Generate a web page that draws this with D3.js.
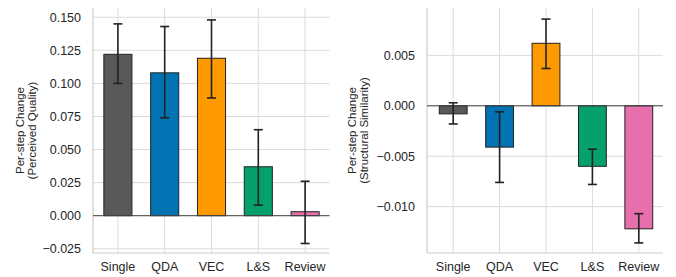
<!DOCTYPE html>
<html>
<head>
<meta charset="UTF-8">
<title>Per-step change</title>
<style>
    body { margin: 0; padding: 0; background: #fff; }
    svg { display: block; font-family: "Liberation Sans", Arial, sans-serif; }
</style>
</head>
<body>
<svg width="676" height="277"></svg>
<script src="https://cdn.jsdelivr.net/npm/d3@7"></script>
<script>
var categories = ["Single", "QDA", "VEC", "L&S", "Review"];
var colors = ["#595959", "#0173b2", "#fe9900", "#06a06f", "#e66fac"];

// perceived quality
var qualityMean = [0.122, 0.108, 0.119, 0.037, 0.003];
var qualityLo = [0.100, 0.074, 0.089, 0.008, -0.021];
var qualityHi = [0.145, 0.143, 0.148, 0.065, 0.026];
var qualityTicks = [-0.025, 0, 0.025, 0.05, 0.075, 0.1, 0.125, 0.15];

// structural similarity
var simMean = [-0.0008, -0.0041, 0.0062, -0.0060, -0.0122];
var simLo = [-0.0018, -0.0076, 0.0037, -0.0078, -0.0136];
var simHi = [0.0003, -0.0006, 0.0086, -0.0043, -0.0107];
var simTicks = [-0.01, -0.005, 0, 0.005];

var svg = d3.select("svg");

function panel(opt) {
    var g = svg.append("g");
    var x = d3.scaleBand()
        .domain(categories)
        .range([opt.left, opt.right])
        .paddingInner(0.4)
        .paddingOuter(0.2);
    var y = d3.scaleLinear()
        .domain(opt.domain)
        .range([opt.bottom, opt.top]);

    // grid
    g.append("g").selectAll("line")
        .data(opt.ticks)
        .enter().append("line")
        .attr("x1", opt.axisLeft).attr("x2", opt.right + 1)
        .attr("y1", function (d) { return y(d); })
        .attr("y2", function (d) { return y(d); })
        .attr("stroke", "#dcdcdc").attr("stroke-width", 1);
    g.append("g").selectAll("line")
        .data(categories)
        .enter().append("line")
        .attr("x1", function (d) { return x(d) + x.bandwidth() / 2; })
        .attr("x2", function (d) { return x(d) + x.bandwidth() / 2; })
        .attr("y1", opt.top).attr("y2", opt.bottom)
        .attr("stroke", "#dcdcdc").attr("stroke-width", 1);

    // spines (left + bottom only)
    g.append("line")
        .attr("x1", opt.axisLeft).attr("x2", opt.axisLeft)
        .attr("y1", opt.top).attr("y2", opt.bottom)
        .attr("stroke", "#cccccc").attr("stroke-width", 1.2);
    g.append("line")
        .attr("x1", opt.axisLeft).attr("x2", opt.right + 1)
        .attr("y1", opt.bottom).attr("y2", opt.bottom)
        .attr("stroke", "#cccccc").attr("stroke-width", 1.2);

    // bars
    g.append("g").selectAll("rect")
        .data(opt.mean)
        .enter().append("rect")
        .attr("x", function (d, i) { return x(categories[i]); })
        .attr("width", x.bandwidth())
        .attr("y", function (d) { return Math.min(y(d), y(0)); })
        .attr("height", function (d) { return Math.abs(y(d) - y(0)); })
        .attr("fill", function (d, i) { return colors[i]; })
        .attr("stroke", "#222").attr("stroke-width", 1);

    // zero line
    g.append("line")
        .attr("x1", opt.axisLeft).attr("x2", opt.right + 1)
        .attr("y1", y(0)).attr("y2", y(0))
        .attr("stroke", "#444").attr("stroke-width", 1);

    // error bars
    var eb = g.append("g").selectAll("g")
        .data(categories)
        .enter().append("g")
        .attr("stroke", "#222").attr("stroke-width", 1.6);
    eb.append("line")
        .attr("x1", function (d) { return x(d) + x.bandwidth() / 2; })
        .attr("x2", function (d) { return x(d) + x.bandwidth() / 2; })
        .attr("y1", function (d, i) { return y(opt.lo[i]); })
        .attr("y2", function (d, i) { return y(opt.hi[i]); });
    eb.append("line")
        .attr("x1", function (d) { return x(d) + x.bandwidth() / 2 - 4.5; })
        .attr("x2", function (d) { return x(d) + x.bandwidth() / 2 + 4.5; })
        .attr("y1", function (d, i) { return y(opt.lo[i]); })
        .attr("y2", function (d, i) { return y(opt.lo[i]); });
    eb.append("line")
        .attr("x1", function (d) { return x(d) + x.bandwidth() / 2 - 4.5; })
        .attr("x2", function (d) { return x(d) + x.bandwidth() / 2 + 4.5; })
        .attr("y1", function (d, i) { return y(opt.hi[i]); })
        .attr("y2", function (d, i) { return y(opt.hi[i]); });

    // y axis
    var ya = g.append("g")
        .attr("transform", "translate(" + opt.axisLeft + ",0)")
        .call(d3.axisLeft(y).tickValues(opt.ticks).tickFormat(d3.format(".3f")).tickSize(0).tickPadding(12));
    ya.select(".domain").remove();
    ya.selectAll("text").attr("font-size", "12.5px").attr("fill", "#262626")
        .attr("font-family", "Liberation Sans, Arial, sans-serif");

    // x axis
    var xa = g.append("g")
        .attr("transform", "translate(0," + opt.bottom + ")")
        .call(d3.axisBottom(x).tickSize(0).tickPadding(9));
    xa.select(".domain").remove();
    xa.selectAll("text").attr("font-size", "12.5px").attr("fill", "#262626")
        .attr("font-family", "Liberation Sans, Arial, sans-serif");

    // y label
    var cy = (opt.top + opt.bottom) / 2;
    var lab = g.append("text")
        .attr("transform", "translate(" + opt.labelX + "," + cy + ") rotate(-90)")
        .attr("text-anchor", "middle")
        .attr("font-size", "11.5px")
        .attr("fill", "#262626");
    lab.append("tspan").attr("x", 0).attr("y", 0).text("Per-step Change");
    lab.append("tspan").attr("x", 0).attr("y", 11.5).text(opt.label);
}

panel({
    left: 94.5, right: 328.5, axisLeft: 93, top: 8, bottom: 253,
    domain: [-0.0282, 0.157],
    ticks: qualityTicks, mean: qualityMean, lo: qualityLo, hi: qualityHi,
    label: "(Perceived Quality)", labelX: 24
});

panel({
    left: 430, right: 662, axisLeft: 427, top: 8, bottom: 253,
    domain: [-0.0146, 0.0097],
    ticks: simTicks, mean: simMean, lo: simLo, hi: simHi,
    label: "(Structural Similarity)", labelX: 356
});
</script>
</body>
</html>
